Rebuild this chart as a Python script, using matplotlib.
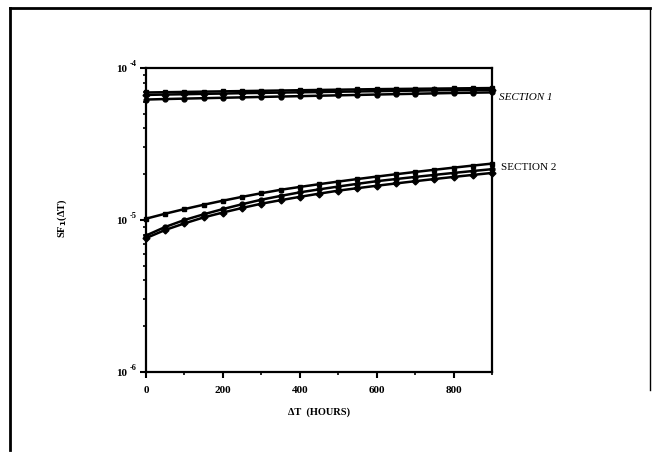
import matplotlib
matplotlib.use("Agg")
import matplotlib.pyplot as plt
from matplotlib.lines import Line2D
from matplotlib.ticker import LogLocator, NullFormatter, FixedLocator

# time after inspection (hours)
hours = [0, 50, 100, 150, 200, 250, 300, 350, 400, 450,
         500, 550, 600, 650, 700, 750, 800, 850, 900]

# section 1 curves
sec1_a = [6.90e-5, 6.93e-5, 6.96e-5, 6.99e-5, 7.02e-5, 7.05e-5, 7.08e-5, 7.11e-5, 7.14e-5, 7.17e-5,
          7.20e-5, 7.23e-5, 7.26e-5, 7.28e-5, 7.30e-5, 7.32e-5, 7.34e-5, 7.36e-5, 7.38e-5]
sec1_b = [6.65e-5, 6.69e-5, 6.72e-5, 6.76e-5, 6.79e-5, 6.83e-5, 6.86e-5, 6.89e-5, 6.92e-5, 6.95e-5,
          6.98e-5, 7.01e-5, 7.04e-5, 7.07e-5, 7.10e-5, 7.13e-5, 7.15e-5, 7.17e-5, 7.19e-5]
sec1_c = [6.20e-5, 6.25e-5, 6.29e-5, 6.33e-5, 6.37e-5, 6.41e-5, 6.45e-5, 6.49e-5, 6.53e-5, 6.57e-5,
          6.61e-5, 6.65e-5, 6.69e-5, 6.73e-5, 6.77e-5, 6.81e-5, 6.85e-5, 6.88e-5, 6.91e-5]

# section 2 curves
sec2_a = [1.02e-5, 1.10e-5, 1.18e-5, 1.26e-5, 1.34e-5, 1.42e-5, 1.50e-5, 1.58e-5, 1.65e-5, 1.72e-5,
          1.79e-5, 1.86e-5, 1.93e-5, 2.00e-5, 2.07e-5, 2.14e-5, 2.21e-5, 2.28e-5, 2.35e-5]
sec2_b = [0.79e-5, 0.90e-5, 1.00e-5, 1.09e-5, 1.18e-5, 1.27e-5, 1.36e-5, 1.44e-5, 1.52e-5, 1.59e-5,
          1.66e-5, 1.73e-5, 1.80e-5, 1.86e-5, 1.92e-5, 1.98e-5, 2.04e-5, 2.10e-5, 2.16e-5]
sec2_c = [0.76e-5, 0.86e-5, 0.95e-5, 1.04e-5, 1.12e-5, 1.20e-5, 1.28e-5, 1.35e-5, 1.42e-5, 1.49e-5,
          1.56e-5, 1.62e-5, 1.68e-5, 1.74e-5, 1.80e-5, 1.86e-5, 1.92e-5, 1.98e-5, 2.04e-5]

ytick_vals = [1e-6, 1e-5, 1e-4]
ytick_exps = ['-6', '-5', '-4']

plt.rcParams['font.family'] = ['Liberation Serif', 'DejaVu Serif']

fig = plt.figure(figsize=(6.61, 4.63), dpi=100)
ax = fig.add_axes([146/661, 1 - 372/463, 346/661, 304/463])

# draw the curves
curves = [(sec1_a, 's'), (sec1_b, 'D'), (sec1_c, 'o'),
          (sec2_a, 's'), (sec2_b, 'o'), (sec2_c, 'D')]
for vals, mk in curves:
    ax.plot(hours, vals, color='black', lw=1.8, marker=mk, ms=3.5,
            mfc='black', mec='black', clip_on=False)

ax.set_yscale('log')
ax.set_xlim(0, 900)
ax.set_ylim(1e-6, 1e-4)

ax.xaxis.set_major_locator(FixedLocator([0, 200, 400, 600, 800]))
ax.xaxis.set_minor_locator(FixedLocator([100, 300, 500, 700, 900]))
ax.yaxis.set_major_locator(FixedLocator(ytick_vals))
ax.yaxis.set_minor_locator(LogLocator(base=10, subs=range(2, 10)))
ax.yaxis.set_minor_formatter(NullFormatter())
ax.set_yticklabels([])

ax.tick_params(which='major', direction='out', length=4, width=1.5, labelsize=8, pad=6)
ax.tick_params(which='minor', direction='out', length=2, width=1.2)
for lbl in ax.get_xticklabels():
    lbl.set_fontweight('bold')

# y tick labels drawn as "10" with a small raised exponent (hyphen style)
for v, e in zip(ytick_vals, ytick_exps):
    ax.annotate('10', xy=(0, v), xycoords=('axes fraction', 'data'),
                xytext=(-13.5, -1), textcoords='offset points', ha='right', va='center',
                fontsize=8, fontweight='bold')
    ax.annotate(e, xy=(0, v), xycoords=('axes fraction', 'data'),
                xytext=(-7, 3), textcoords='offset points', ha='right', va='center',
                fontsize=6, fontweight='bold')

for s in ax.spines.values():
    s.set_linewidth(1.6)

ax.set_xlabel('\u0394T  (HOURS)', fontsize=7.5, fontweight='bold', labelpad=9)
fig.text(62/661, 1 - 218/463, 'SF$_{\\mathbf{1}}$(\u0394T)', rotation=90, fontsize=7.5,
         fontweight='bold', ha='center', va='center')

# section labels
fig.text(499/661, 1 - 97/463, 'SECTION 1', fontsize=8, style='italic',
         ha='left', va='center')
fig.text(501/661, 1 - 168/463, 'SECTION 2', fontsize=8,
         ha='left', va='center')

# outer frame of the scanned page
fig.add_artist(Line2D([10/661, 650/661], [1 - 8/463, 1 - 8/463], color='black', lw=2))
fig.add_artist(Line2D([10/661, 10/661], [1 - 8/463, 1 - 450/463], color='black', lw=2))
fig.add_artist(Line2D([650/661, 650/661], [1 - 8/463, 1 - 390/463], color='black', lw=1))

fig.savefig('out.png', dpi=100)
